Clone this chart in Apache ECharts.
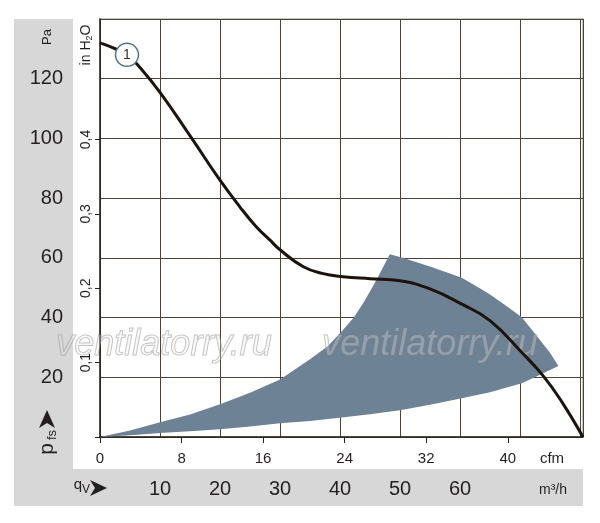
<!DOCTYPE html>
<html>
<head>
<meta charset="utf-8">
<script src="https://cdn.jsdelivr.net/npm/echarts@6/dist/echarts.min.js"></script>
<style>
  html, body { margin: 0; padding: 0; background: #fff; }
  #chart { width: 600px; height: 523px; }
</style>
</head>
<body>
<div id="chart"></div>
<script>
// fan curve 1, flow in m3/h, pressure in Pa
var curveFlow = [0, 2.2, 4.5, 6.7, 10, 15.3, 20, 23.3, 26, 28.3, 30, 33.9, 37, 40.5, 45, 50, 55, 60.3, 65, 70.3, 73.9, 77, 80.5];
var curvePa   = [132, 130.3, 128, 123.7, 115.4, 100, 86, 77.1, 70.5, 66, 62.7, 57, 54.8, 53.7, 53, 52.3, 49.6, 44.5, 39, 28.3, 20.4, 11.7, 0];

// operating area (shaded), outline going round
var areaFlow = [0, 5, 10, 15, 20, 25, 30, 35, 38, 40.3, 42.3, 43.9, 45.5, 46.7, 48.3,
                50.3, 55, 60.3, 63.3, 65, 67.8, 70.3, 72.8, 75, 76.4,
                73, 70.3, 65, 60.3, 55, 50, 45, 40.3, 35, 30, 25, 20, 15, 10, 5];
var areaPa   = [0, 2.2, 4.9, 7.5, 11, 14.8, 19.3, 26, 30.5, 35.4, 40, 45, 50.5, 55, 61.2,
                60.1, 57.1, 53.3, 49.8, 47.7, 43.8, 40.1, 33.8, 28.2, 23.8,
                20.5, 18, 15, 13, 10.8, 9, 7.6, 6.5, 5.4, 4.6, 3.5, 2.6, 1.9, 1.3, 0.6];

var paTicks   = [20, 40, 60, 80, 100, 120];
var inchTicks = [0.1, 0.2, 0.3, 0.4];
var m3hTicks  = [10, 20, 30, 40, 50, 60];
var cfmTicks  = [0, 8, 16, 24, 32, 40];

var PA_PER_INCH = 249.09;
var M3H_PER_CFM = 1.699;
var xMax = 80.5, yMax = 140;

var numFont = "'Liberation Sans Narrow', 'Liberation Sans', sans-serif";
var dark = '#2a211b';
var gridColor = '#4d4339';

var chart = echarts.init(document.getElementById('chart'));

var curveData = curveFlow.map(function (q, i) { return [q, curvePa[i]]; });

// watermark style
var wm = { text: 'ventilatorry.ru', fontSize: 36, fontStyle: 'italic', fontFamily: 'Liberation Sans, sans-serif',
           fill: 'rgba(235,235,235,0.3)', stroke: 'rgba(125,125,125,0.5)', lineWidth: 1, align: 'center', verticalAlign: 'middle' };

chart.setOption({
    animation: false,
    grid: { left: 100, top: 19, right: 17, bottom: 86, show: true, borderColor: '#b5b0aa', borderWidth: 1.5 },
    xAxis: [{
        type: 'value', min: 0, max: xMax, interval: 10, position: 'bottom',
        axisLine: { show: true, lineStyle: { color: dark, width: 1.5 } },
        axisTick: { show: false },
        splitLine: { show: true, lineStyle: { color: gridColor, width: 1 } },
        axisLabel: { customValues: m3hTicks, margin: 42, fontSize: 20, color: '#231f20', fontFamily: numFont }
    }, {
        type: 'value', min: 0, max: xMax / M3H_PER_CFM, position: 'bottom', offset: 0,
        axisLine: { show: false },
        axisTick: { show: true, customValues: cfmTicks, length: 6, lineStyle: { color: dark } },
        splitLine: { show: false },
        axisLabel: { customValues: cfmTicks, margin: 14, fontSize: 15, color: '#231f20', fontFamily: numFont }
    }],
    yAxis: [{
        type: 'value', min: 0, max: yMax, interval: 20, position: 'left',
        axisLine: { show: true, lineStyle: { color: dark, width: 1.5 } },
        axisTick: { show: false },
        splitLine: { show: true, lineStyle: { color: gridColor, width: 1 } },
        axisLabel: { customValues: paTicks, margin: 37, fontSize: 20, color: '#231f20', fontFamily: numFont }
    }, {
        type: 'value', min: 0, max: yMax / PA_PER_INCH, position: 'left', offset: 0,
        axisLine: { show: false },
        axisTick: { show: true, customValues: [0].concat(inchTicks), length: 5, lineStyle: { color: dark } },
        splitLine: { show: false },
        axisLabel: {
            customValues: inchTicks, rotate: 90, margin: 7, fontSize: 14, color: '#231f20', fontFamily: numFont,
            formatter: function (v) { return String(v).replace('.', ','); }
        }
    }],
    graphic: [
        // grey frame strips
        { type: 'rect', z: -10, shape: { x: 14, y: 19, width: 59, height: 487 }, style: { fill: '#d7d7d7' } },
        { type: 'rect', z: -10, shape: { x: 14, y: 469, width: 569, height: 37 }, style: { fill: '#d7d7d7' } },
        { type: 'text', rotation: Math.PI / 2, x: 47, y: 37, style: { text: 'Pa', fontSize: 13, fill: '#231f20', fontFamily: numFont, align: 'center', verticalAlign: 'middle' } },
        // in H2O
        { type: 'text', rotation: Math.PI / 2, x: 86, y: 45, style: {
            text: '{a|in H}{b|2}{a|O}', align: 'center', verticalAlign: 'middle',
            rich: {
                a: { fontSize: 14, fill: '#231f20', fontFamily: numFont },
                b: { fontSize: 9, fill: '#231f20', fontFamily: numFont, padding: [8, 0, 0, 0] }
            } } },
        // p_fs with arrow
        { type: 'text', rotation: Math.PI / 2, x: 47, y: 449, style: { text: 'p', fontSize: 21, fill: '#231f20', fontFamily: numFont, align: 'center', verticalAlign: 'middle' } },
        { type: 'text', rotation: Math.PI / 2, x: 52, y: 435, style: { text: 'fs', fontSize: 13, fill: '#231f20', fontFamily: numFont, align: 'center', verticalAlign: 'middle' } },
        { type: 'polygon', shape: { points: [[47, 410], [55, 428], [47, 423], [39, 428]] }, style: { fill: '#231f20' } },
        // q_V with arrow
        { type: 'text', x: 78, y: 485, style: { text: 'q', fontSize: 15, fill: '#231f20', fontFamily: numFont, align: 'center', verticalAlign: 'middle' } },
        { type: 'text', x: 86, y: 490, style: { text: 'V', fontSize: 12, fill: '#231f20', fontFamily: numFont, align: 'center', verticalAlign: 'middle' } },
        { type: 'polygon', shape: { points: [[107, 488], [90, 480], [95, 488], [90, 496]] }, style: { fill: '#231f20' } },
        { type: 'text', x: 553, y: 490, style: { text: 'm³/h', fontSize: 14, fill: '#231f20', fontFamily: numFont, align: 'center', verticalAlign: 'middle' } },
        { type: 'text', x: 552, y: 459, style: { text: 'cfm', fontSize: 15, fill: '#231f20', fontFamily: numFont, align: 'center', verticalAlign: 'middle' } },
        // watermarks
        { type: 'text', z: 3, x: 164, y: 345, style: wm },
        { type: 'text', z: 3, x: 430, y: 345, style: wm }
    ],
    series: [{
        type: 'custom',
        z: 1,
        silent: true,
        data: [0],
        renderItem: function (params, api) {
            var pts = areaFlow.map(function (q, i) { return api.coord([q, areaPa[i]]); });
            return { type: 'polygon', shape: { points: pts }, style: { fill: '#6e8296' } };
        }
    }, {
        type: 'line',
        z: 5,
        data: curveData,
        smooth: 0.45,
        showSymbol: false,
        lineStyle: { color: '#1e130b', width: 3 }
    }, {
        type: 'scatter',
        z: 6,
        data: [[4.5, 128]],
        symbol: 'circle',
        symbolSize: 23,
        itemStyle: { color: '#fff', borderColor: '#52708c', borderWidth: 1.5, opacity: 1 },
        label: { show: true, position: 'inside', formatter: '1', fontSize: 14, color: '#333', fontFamily: numFont }
    }]
});
</script>
</body>
</html>
